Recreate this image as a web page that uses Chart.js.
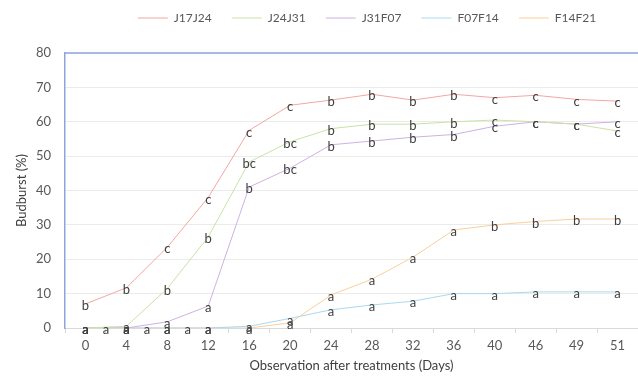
<!DOCTYPE html>
<html><head><meta charset="utf-8">
<script src="https://cdn.jsdelivr.net/npm/chart.js@4.4.0/dist/chart.umd.min.js"></script>
<style>html,body{margin:0;padding:0;background:#fff}#wrap{width:638px;height:378px}</style>
</head><body><div id="wrap"><canvas id="c" width="638" height="378"></canvas></div>
<script>
const days = ['0','4','8','12','16','20','24','28','32','36','40','46','49','51'];
const J17J24 = [7, 11.7, 23.5, 38, 57.5, 64.8, 66.3, 68, 66.3, 68, 67, 67.7, 66.5, 66];
const J24J31 = [0, 0.5, 11.5, 26.5, 48.3, 54.2, 58, 59.3, 59.3, 60, 60.5, 60, 59.3, 57.3];
const J31F07 = [0, 0, 1.8, 6.4, 41, 46.5, 53.3, 54.4, 55.5, 56.3, 58.7, 60, 59.3, 60];
const F07F14 = [0, 0, 0, 0, 0.5, 2.8, 5.3, 6.7, 7.8, 10, 10, 10.5, 10.5, 10.5];
const F14F21 = [0, 0, 0, 0, 0, 1.5, 9.6, 14.2, 20.6, 28.5, 30, 31, 31.7, 31.7];
const lettersJ17J24 = ['b','b','c','c','c','c','b','b','b','b','c','c','c','c'];
const lettersJ24J31 = ['a','a','b','b','bc','bc','b','b','b','b','c','c','c','c'];
const lettersJ31F07 = ['a','a','a','a','b','bc','b','b','b','b','c','c','c','c'];
const lettersF07F14 = ['a','a','a','a','a','a','a','a','a','a','a','a','a','a'];
const lettersF14F21 = ['a','a','a','a','a','a','a','a','a','a','b','b','b','b'];
const extraLetterSlots = [0.5, 1.5, 2.5];
const extraLetter = 'a';
const yTicks = [0,10,20,30,40,50,60,70,80];

const FONT = 'Lato, "Open Sans", sans-serif';

const letterPlugin = {
  id: 'letters',
  afterDatasetsDraw(chart) {
    const ctx = chart.ctx;
    ctx.save();
    ctx.font = '13px ' + FONT;
    ctx.fillStyle = '#404040';
    ctx.textAlign = 'center';
    ctx.textBaseline = 'middle';
    chart.data.datasets.forEach((ds, di) => {
      const meta = chart.getDatasetMeta(di);
      meta.data.forEach((pt, i) => {
        ctx.fillText(ds.letters[i], pt.x, pt.y + 2);
      });
    });
    const xs = chart.scales.x, ys = chart.scales.y;
    extraLetterSlots.forEach(s => {
      const a = xs.getPixelForValue(Math.floor(s));
      const b = xs.getPixelForValue(Math.ceil(s));
      const x = a + (b - a) * (s - Math.floor(s));
      ctx.fillText(extraLetter, x, ys.getPixelForValue(0) + 2);
    });
    ctx.restore();
  }
};

const framePlugin = {
  id: 'frame',
  afterLayout(chart) {
    const lg = chart.legend;
    if (lg) { lg.left += 48; lg.right += 48; lg.top -= 19; lg.bottom -= 19; }
  },
  afterDatasetsDraw(chart) {
    const {ctx, chartArea} = chart;
    ctx.save();
    ctx.strokeStyle = '#8ea4dc';
    ctx.lineWidth = 1.5;
    ctx.beginPath();
    ctx.moveTo(chartArea.left, chartArea.top);
    ctx.lineTo(chart.width, chartArea.top);
    ctx.stroke();
    ctx.restore();
  }
};

function ds(label, data, letters, color) {
  return { label, data, letters, borderColor: color, backgroundColor: color,
    borderWidth: 1, pointRadius: 0, tension: 0, fill: false };
}

new Chart(document.getElementById('c'), {
  type: 'line',
  data: {
    labels: days,
    datasets: [
      ds('J17J24', J17J24, lettersJ17J24, '#f2a7a3'),
      ds('J24J31', J24J31, lettersJ24J31, '#c9e2a6'),
      ds('J31F07', J31F07, lettersJ31F07, '#cfb1e0'),
      ds('F07F14', F07F14, lettersF07F14, '#a9d9ec'),
      ds('F14F21', F14F21, lettersF14F21, '#fbcf9c')
    ]
  },
  options: {
    responsive: false,
    devicePixelRatio: 1,
    animation: false,
    layout: { padding: { top: 11, left: 0, right: 0, bottom: 0 } },
    plugins: {
      legend: {
        position: 'top',
        labels: {
          usePointStyle: true, pointStyle: 'line', pointStyleWidth: 30,
          padding: 20, color: '#595959', font: { size: 12, family: FONT }
        }
      },
      tooltip: { enabled: false }
    },
    scales: {
      x: {
        type: 'category',
        offset: true,
        grid: { display: true, drawOnChartArea: false, offset: true, tickLength: 5, color: '#d9d9d9' },
        border: { display: true, color: '#d9d9d9' },
        ticks: { color: '#595959', font: { size: 13, family: FONT }, padding: 5, maxRotation: 0, autoSkip: false },
        title: { display: true, text: 'Observation after treatments (Days)', color: '#404040', font: { size: 13, family: FONT }, padding: { top: 4, bottom: 4 } },
        afterFit: s => { s.height = 50; }
      },
      y: {
        min: 0, max: 80,
        afterBuildTicks: s => { s.ticks = yTicks.map(v => ({ value: v })); },
        grid: { color: '#ebebeb', drawTicks: false },
        border: { display: true, color: '#8ea4dc', width: 1.5 },
        ticks: { color: '#595959', font: { size: 13, family: FONT }, padding: 14 },
        title: { display: true, text: 'Budburst (%)', color: '#404040', font: { size: 13, family: FONT }, padding: { top: 14, bottom: 4 } },
        afterFit: s => { s.width = 65; }
      }
    }
  },
  plugins: [letterPlugin, framePlugin]
});
</script>
</body></html>
